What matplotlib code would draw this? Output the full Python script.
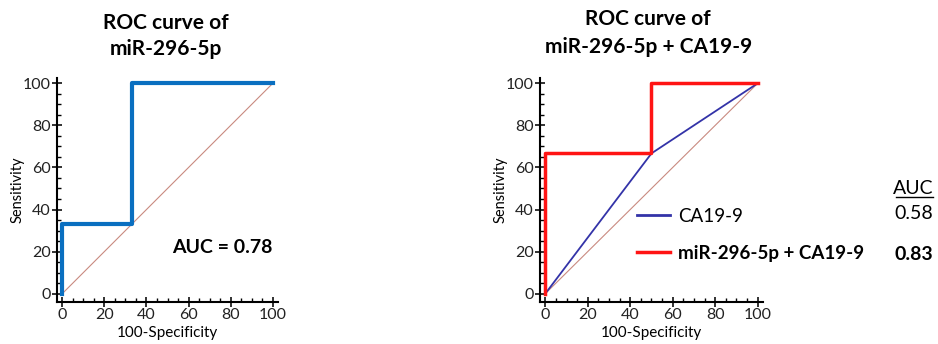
import matplotlib.pyplot as plt
from matplotlib.lines import Line2D
from matplotlib.ticker import MultipleLocator

plt.rcParams["font.family"] = ["Lato", "DejaVu Sans"]

# ROC points (100-specificity, sensitivity)
mir_fpr = [0, 0, 33.3, 33.3, 100]
mir_tpr = [0, 33.3, 33.3, 100, 100]

ca199_fpr = [0, 50, 100]
ca199_tpr = [0, 66.7, 100]

combo_fpr = [0, 0, 50, 50, 100]
combo_tpr = [0, 66.7, 66.7, 100, 100]

ref_line = [0, 100]

auc_mir = "0.78"
auc_ca199 = "0.58"
auc_combo = "0.83"

legend_labels = ["CA19-9", "miR-296-5p + CA19-9"]

BLUE = "#0a6fc0"
NAVY = "#3333a8"
RED = "#ff1414"
DIAG = "#c98a80"


def style_axes(ax):
    ax.set_xlim(-2.5, 102.5)
    ax.set_ylim(-4, 102.5)
    ax.xaxis.set_major_locator(MultipleLocator(20))
    ax.yaxis.set_major_locator(MultipleLocator(20))
    ax.xaxis.set_minor_locator(MultipleLocator(5))
    ax.yaxis.set_minor_locator(MultipleLocator(5))
    ax.tick_params(which="major", direction="inout", length=7, width=1.3,
                   labelsize=11.5, colors="#222222", pad=1)
    ax.tick_params(which="minor", direction="in", length=3, width=1.0)
    for side in ("top", "right"):
        ax.spines[side].set_visible(False)
    for side in ("left", "bottom"):
        ax.spines[side].set_linewidth(1.5)
    ax.set_xlabel("100-Specificity", fontsize=11, labelpad=3)
    ax.set_ylabel("Sensitivity", fontsize=10.5)
    ax.yaxis.set_label_coords(-0.147, 0.5)


fig = plt.figure(figsize=(9.38, 3.44), dpi=100)
ax1 = fig.add_axes([0.0608, 0.122, 0.2356, 0.651])
ax2 = fig.add_axes([0.5757, 0.122, 0.2377, 0.651])

# left panel
ax1.plot(ref_line, ref_line, color=DIAG, lw=0.8)
ax1.plot(mir_fpr, mir_tpr, color=BLUE, lw=3)
style_axes(ax1)
ax1.text(100, 22, f"AUC = {auc_mir}", ha="right", va="center",
         fontsize=14, fontweight="bold")
fig.text(0.177, 0.933, "ROC curve of", ha="center", va="center",
         fontsize=15, fontweight="bold")
fig.text(0.177, 0.857, "miR-296-5p", ha="center", va="center",
         fontsize=15, fontweight="bold")

# right panel
ax2.plot(ref_line, ref_line, color=DIAG, lw=0.8)
h1, = ax2.plot(ca199_fpr, ca199_tpr, color=NAVY, lw=1.3)
h2, = ax2.plot(combo_fpr, combo_tpr, color=RED, lw=2.5)
style_axes(ax2)
leg = ax2.legend([h1, h2], legend_labels, loc="center left",
                 bbox_to_anchor=(0.435, 0.30), frameon=False, fontsize=13.5,
                 handlelength=1.75, handletextpad=0.45, labelspacing=1.05,
                 borderaxespad=0, borderpad=0)
leg.get_lines()[0].set_linewidth(2)
leg.get_lines()[1].set_linewidth(2.5)
leg.get_texts()[1].set_fontweight("bold")
fig.text(0.691, 0.945, "ROC curve of", ha="center", va="center",
         fontsize=15, fontweight="bold")
fig.text(0.691, 0.863, "miR-296-5p + CA19-9", ha="center", va="center",
         fontsize=15, fontweight="bold")

fig.text(0.995, 0.451, "AUC", ha="right", va="center", fontsize=14)
fig.add_artist(Line2D([0.955, 0.995], [0.428, 0.428], color="black", lw=1.0))
fig.text(0.995, 0.38, auc_ca199, ha="right", va="center", fontsize=14)
fig.text(0.995, 0.259, auc_combo, ha="right", va="center", fontsize=14,
         fontweight="bold")

fig.savefig("out.png", dpi=100)
